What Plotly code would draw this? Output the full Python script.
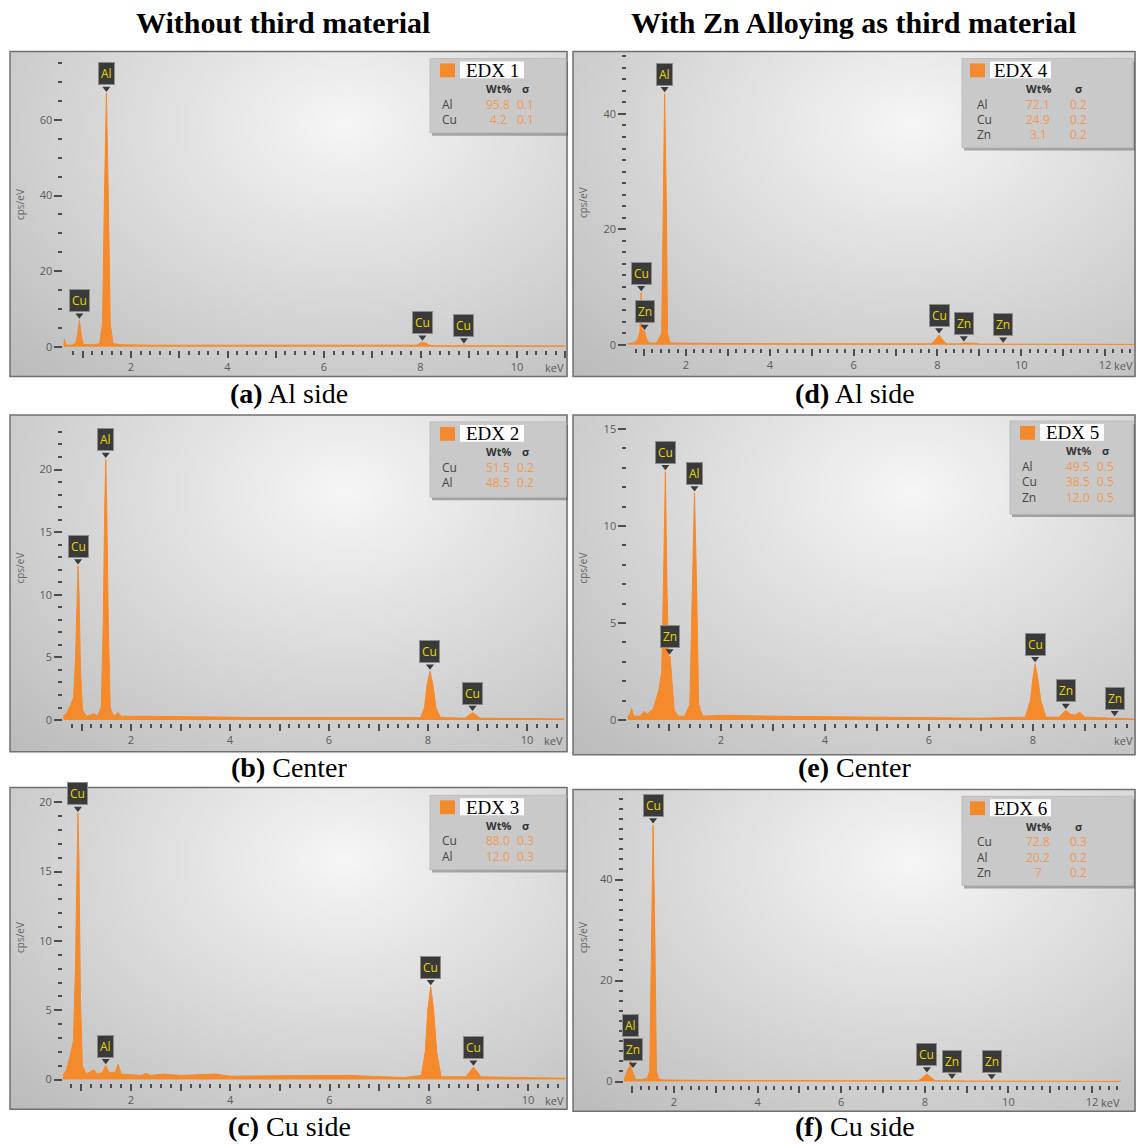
import math, zlib, struct, base64
import plotly.graph_objects as go

W, H = 1136, 1145

# ---------------- DATA ----------------
titles = ["Without third material", "With Zn Alloying as third material"]

# (a) EDX 1 – Al side, without third material
a_keV = [0.60, 0.62, 0.65, 0.75, 0.85, 0.89, 0.93, 0.97, 1.01, 1.20, 1.35, 1.41, 1.45, 1.49, 1.53, 1.57, 1.63, 1.80,
         2.50, 4.00, 6.00, 7.80, 7.92, 8.00, 8.04, 8.10, 8.18, 8.30, 8.82, 8.90, 8.98, 11.0]
a_cps = [0.3, 2.0, 0.5, 0.4, 0.8, 3.0, 7.0, 3.0, 0.6, 0.5, 0.8, 6.0, 40.0, 67.0, 40.0, 6.0, 0.8, 0.5,
         0.4, 0.35, 0.3, 0.25, 0.4, 1.0, 1.2, 1.0, 0.4, 0.25, 0.25, 0.45, 0.25, 0.2]
a_labels = ["Cu", "Al", "Cu", "Cu"]
a_label_keV = [0.93, 1.49, 8.04, 8.90]
a_label_cps = [7.0, 67.0, 1.2, 0.45]
a_elements = ["Al", "Cu"]
a_wt = ["95.8", "4.2"]
a_sigma = ["0.1", "0.1"]
a_xticklabels = [2, 4, 6, 8, 10]

# (b) EDX 2 – Center, without third material
b_keV = [0.63, 0.70, 0.78, 0.84, 0.88, 0.91, 0.93, 0.95, 0.98, 1.02, 1.10, 1.25, 1.32, 1.40, 1.44, 1.47, 1.49, 1.51,
         1.54, 1.58, 1.65, 1.74, 1.80, 2.30, 2.60, 3.00, 3.70, 4.50, 5.40, 6.40, 7.50, 7.85, 7.93, 7.98, 8.04, 8.10,
         8.16, 8.25, 8.75, 8.83, 8.90, 8.97, 9.05, 10.75]
b_cps = [0.3, 0.6, 1.2, 1.8, 5.0, 10.0, 12.3, 10.0, 4.0, 0.8, 0.3, 0.5, 0.3, 1.0, 8.0, 17.0, 20.8, 17.0,
         8.0, 1.0, 0.3, 0.6, 0.3, 0.3, 0.3, 0.25, 0.25, 0.2, 0.2, 0.2, 0.15, 0.2, 1.0, 2.8, 3.9, 2.8,
         1.0, 0.2, 0.15, 0.4, 0.6, 0.4, 0.15, 0.1]
b_labels = ["Cu", "Al", "Cu", "Cu"]
b_label_keV = [0.93, 1.49, 8.04, 8.90]
b_label_cps = [12.3, 20.8, 3.9, 0.6]
b_elements = ["Cu", "Al"]
b_wt = ["51.5", "48.5"]
b_sigma = ["0.2", "0.2"]
b_xticklabels = [2, 4, 6, 8, 10]

# (c) EDX 3 – Cu side, without third material
c_keV = [0.63, 0.70, 0.78, 0.84, 0.88, 0.91, 0.93, 0.95, 0.98, 1.02, 1.10, 1.25, 1.32, 1.42, 1.49, 1.56, 1.68, 1.74,
         1.80, 2.20, 2.30, 2.40, 2.65, 3.00, 3.35, 3.70, 4.00, 5.40, 6.40, 7.50, 7.85, 7.93, 7.98, 8.04, 8.10, 8.16,
         8.25, 8.75, 8.83, 8.90, 8.97, 9.05, 10.75]
c_cps = [0.3, 0.7, 1.8, 2.8, 8.0, 16.0, 19.2, 16.0, 6.0, 1.0, 0.4, 0.7, 0.4, 0.5, 1.0, 0.5, 0.5, 1.1,
         0.4, 0.3, 0.45, 0.3, 0.4, 0.3, 0.35, 0.4, 0.25, 0.25, 0.3, 0.15, 0.3, 2.0, 5.0, 6.7, 5.0, 2.0,
         0.2, 0.2, 0.6, 0.9, 0.6, 0.2, 0.1]
c_labels = ["Cu", "Al", "Cu", "Cu"]
c_label_keV = [0.93, 1.49, 8.04, 8.90]
c_label_cps = [19.2, 1.0, 6.7, 0.9]
c_elements = ["Cu", "Al"]
c_wt = ["88.0", "12.0"]
c_sigma = ["0.3", "0.3"]
c_xticklabels = [2, 4, 6, 8, 10]

# (d) EDX 4 – Al side, with Zn alloying
d_keV = [0.60, 0.75, 0.85, 0.90, 0.93, 0.95, 1.01, 1.06, 1.12, 1.30, 1.42, 1.45, 1.49, 1.53, 1.56, 1.62, 3.00,
         6.00, 7.85, 7.95, 8.04, 8.13, 8.22, 8.55, 8.63, 8.90, 9.00, 12.7]
d_cps = [0.2, 0.3, 1.0, 2.2, 9.0, 2.5, 2.3, 1.0, 0.3, 0.3, 2.0, 25.0, 43.5, 25.0, 2.0, 0.3, 0.2,
         0.15, 0.15, 0.8, 1.7, 0.8, 0.15, 0.15, 0.3, 0.25, 0.1, 0.05]
d_labels = ["Cu", "Zn", "Al", "Cu", "Zn", "Zn"]
d_label_keV = [0.93, 1.01, 1.49, 8.04, 8.63, 9.57]
d_label_cps = [9.0, 2.3, 43.5, 1.7, 0.3, 0.1]
d_elements = ["Al", "Cu", "Zn"]
d_wt = ["72.1", "24.9", "3.1"]
d_sigma = ["0.2", "0.2", "0.2"]
d_xticklabels = [2, 4, 6, 8, 10, 12]

# (e) EDX 5 – Center, with Zn alloying
e_keV = [0.20, 0.25, 0.28, 0.32, 0.45, 0.52, 0.58, 0.70, 0.80, 0.86, 0.90, 0.93, 0.96, 0.99, 1.02, 1.06, 1.10, 1.18,
         1.30, 1.40, 1.45, 1.49, 1.53, 1.57, 1.65, 2.00, 3.00, 5.00, 7.00, 7.85, 7.95, 8.00, 8.04, 8.09, 8.15, 8.25,
         8.50, 8.63, 8.72, 8.80, 8.90, 9.00, 9.50, 9.57, 9.65, 10.0]
e_cps = [0.2, 0.3, 0.6, 0.2, 0.2, 0.45, 0.3, 0.6, 1.5, 2.5, 8.0, 12.8, 7.0, 3.2, 3.3, 2.0, 0.5, 0.2,
         0.2, 0.8, 7.0, 11.7, 7.0, 0.8, 0.2, 0.25, 0.2, 0.15, 0.1, 0.15, 1.0, 2.2, 2.9, 2.2, 1.0, 0.15,
         0.15, 0.5, 0.3, 0.25, 0.4, 0.15, 0.1, 0.12, 0.1, 0.05]
e_labels = ["Cu", "Zn", "Al", "Cu", "Zn", "Zn"]
e_label_keV = [0.93, 1.01, 1.49, 8.04, 8.63, 9.57]
e_label_cps = [12.8, 3.3, 11.7, 2.9, 0.5, 0.12]
e_elements = ["Al", "Cu", "Zn"]
e_wt = ["49.5", "38.5", "12.0"]
e_sigma = ["0.5", "0.5", "0.5"]
e_xticklabels = [2, 4, 6, 8]

# (f) EDX 6 – Cu side, with Zn alloying
f_keV = [0.80, 0.85, 0.90, 0.94, 0.96, 0.98, 1.03, 1.08, 1.20, 1.35, 1.42, 1.46, 1.50, 1.54, 1.58, 1.64, 1.80,
         3.00, 6.00, 7.85, 7.95, 8.05, 8.15, 8.25, 8.60, 8.90, 9.00, 12.7]
f_cps = [0.3, 1.5, 2.5, 2.8, 7.2, 2.6, 1.5, 0.4, 0.4, 0.6, 2.0, 30.0, 50.8, 30.0, 2.0, 0.4, 0.3,
         0.2, 0.15, 0.15, 0.8, 1.5, 0.8, 0.15, 0.15, 0.2, 0.1, 0.05]
f_labels = ["Al", "Zn", "Cu", "Cu", "Zn", "Zn"]
f_label_keV = [0.96, 1.02, 1.50, 8.05, 8.65, 9.60]
f_label_cps = [7.2, 2.4, 50.8, 1.5, 0.2, 0.1]
f_elements = ["Cu", "Al", "Zn"]
f_wt = ["72.8", "20.2", "7"]
f_sigma = ["0.3", "0.2", "0.2"]
f_xticklabels = [2, 4, 6, 8, 10, 12]

# ---------------- STYLE / GEOMETRY ----------------
ORANGE = "#f58a2c"
VAL_ORANGE = "#f39a52"
TAG_BG = "#3a3a3a"
TAG_FG = "#e9d700"
TICK_C = "#4d4d4d"
SANS = "Open Sans"
SERIF = "Liberation Serif"

panels = [
    dict(keV=a_keV, cps=a_cps, lab=a_labels, lx=a_label_keV, ly=a_label_cps, el=a_elements, wt=a_wt, sg=a_sigma,
         xl=a_xticklabels, edx="EDX 1", tag="(a)", cap="Al side",
         frame=(10, 45, 568, 373), xcal=(2, 131, 10, 517), xr=(0.6, 11.0), ycal=(343, 60, 114), ytop=75,
         ydt=20, ymn=5, legend=(430, 52, 566, 127), ylab=(20, 200), caption_y=390),
    dict(keV=b_keV, cps=b_cps, lab=b_labels, lx=b_label_keV, ly=b_label_cps, el=b_elements, wt=b_wt, sg=b_sigma,
         xl=b_xticklabels, edx="EDX 2", tag="(b)", cap="Center",
         frame=(10, 412, 568, 752), xcal=(2, 131, 10, 527), xr=(0.63, 10.75), ycal=(720, 20, 467), ytop=23.2,
         ydt=5, ymn=1, legend=(430, 419, 566, 495), ylab=(20, 567), caption_y=768),
    dict(keV=c_keV, cps=c_cps, lab=c_labels, lx=c_label_keV, ly=c_label_cps, el=c_elements, wt=c_wt, sg=c_sigma,
         xl=c_xticklabels, edx="EDX 3", tag="(c)", cap="Cu side",
         frame=(10, 788, 568, 1113), xcal=(2, 131, 10, 528), xr=(0.63, 10.75), ycal=(1083, 20, 803), ytop=20.6,
         ydt=5, ymn=1, legend=(430, 796, 566, 871), ylab=(20, 940), caption_y=1130),
    dict(keV=d_keV, cps=d_cps, lab=d_labels, lx=d_label_keV, ly=d_label_cps, el=d_elements, wt=d_wt, sg=d_sigma,
         xl=d_xticklabels, edx="EDX 4", tag="(d)", cap="Al side",
         frame=(573, 45, 1136, 373), xcal=(2, 686, 12, 1105), xr=(0.6, 12.7), ycal=(341, 40, 108), ytop=50,
         ydt=20, ymn=2, legend=(962, 52, 1133, 142), ylab=(583, 198), caption_y=390),
    dict(keV=e_keV, cps=e_cps, lab=e_labels, lx=e_label_keV, ly=e_label_cps, el=e_elements, wt=e_wt, sg=e_sigma,
         xl=e_xticklabels, edx="EDX 5", tag="(e)", cap="Center",
         frame=(573, 412, 1136, 755), xcal=(2, 721, 8, 1033), xr=(0.2, 9.95), ycal=(720, 15, 426), ytop=15,
         ydt=5, ymn=1, legend=(1010, 418, 1133, 512), ylab=(583, 567), caption_y=768),
    dict(keV=f_keV, cps=f_cps, lab=f_labels, lx=f_label_keV, ly=f_label_cps, el=f_elements, wt=f_wt, sg=f_sigma,
         xl=f_xticklabels, edx="EDX 6", tag="(f)", cap="Cu side",
         frame=(573, 790, 1136, 1115), xcal=(2, 674, 12, 1092), xr=(0.8, 12.7), ycal=(1085, 40, 881), ytop=56,
         ydt=20, ymn=2, legend=(962, 797, 1133, 887), ylab=(583, 940), caption_y=1130),
]


def px(x):
    return x / W


def py(y):
    return 1 - y / H


def gradient_png(w=120, h=70):
    rows = []
    for j in range(h):
        yy = j / (h - 1)
        row = bytearray([0])
        for i in range(w):
            xx = i / (w - 1)
            d = math.sqrt(((xx - 0.6) / 0.8) ** 2 + ((yy - 0.22) / 1.0) ** 2)
            d = min(d, 1.1)
            v = int(round(246 - 54 * d))
            row += bytes([v, v, v])
        rows.append(bytes(row))
    raw = b"".join(rows)

    def chunk(t, dat):
        return struct.pack(">I", len(dat)) + t + dat + struct.pack(">I", zlib.crc32(t + dat) & 0xFFFFFFFF)

    png = (b"\x89PNG\r\n\x1a\n" + chunk(b"IHDR", struct.pack(">IIBBBBB", w, h, 8, 2, 0, 0, 0))
           + chunk(b"IDAT", zlib.compress(raw, 9)) + chunk(b"IEND", b""))
    return "data:image/png;base64," + base64.b64encode(png).decode()


BG = gradient_png()

fig = go.Figure()
shapes, annotations, images = [], [], []

for i, p in enumerate(panels, start=1):
    xs = "x" if i == 1 else f"x{i}"
    ys = "y" if i == 1 else f"y{i}"
    xa_v, xa_p, xb_v, xb_p = p["xcal"]
    kx = (xb_p - xa_p) / (xb_v - xa_v)
    y0p, y1v, y1p = p["ycal"]
    ky = (y0p - y1p) / y1v  # px per unit
    xpx = lambda v: xa_p + (v - xa_v) * kx
    ypx = lambda v: y0p - v * ky
    ymin = -3.0 / ky
    ytop = p["ytop"] * 1.002 + 0.01
    xmin, xmax = p["xr"]

    fx0, fy0, fx1, fy1 = p["frame"]
    images.append(dict(source=BG, xref="paper", yref="paper", x=px(fx0), y=py(fy0),
                       sizex=px(fx1) - px(fx0), sizey=py(fy0) - py(fy1), sizing="stretch", layer="below"))
    shapes.append(dict(type="rect", xref="paper", yref="paper", x0=px(fx0), x1=px(fx1 - 1), y0=py(fy1), y1=py(fy0),
                       line=dict(color="#707070", width=1.5), fillcolor="rgba(0,0,0,0)", layer="above"))

    # spectrum
    fig.add_trace(go.Scatter(x=p["keV"], y=p["cps"], mode="lines", fill="tozeroy",
                             line=dict(color=ORANGE, width=1), fillcolor=ORANGE,
                             xaxis=xs, yaxis=ys, showlegend=False, hoverinfo="skip"))
    # label pointers
    fig.add_trace(go.Scatter(x=p["lx"], y=[v + 5.0 / ky for v in p["ly"]], mode="markers",
                             marker=dict(symbol="triangle-down", size=7, color=TAG_BG),
                             xaxis=xs, yaxis=ys, showlegend=False, hoverinfo="skip"))
    for t, xv, yv in zip(p["lab"], p["lx"], p["ly"]):
        annotations.append(dict(x=xv, y=yv, xref=xs, yref=ys, text=t, showarrow=False, yanchor="bottom",
                                yshift=8, bgcolor=TAG_BG, bordercolor="#8c8c8c", borderwidth=1, borderpad=2,
                                font=dict(family=SANS, size=12, color=TAG_FG)))

    ints = list(range(math.ceil(xmin), math.floor(xmax) + 1))
    minor_vals = [round(k * 0.2, 2) for k in range(int(xmin * 5) + 1, int(xmax * 5) + 1)
                  if abs(k * 0.2 - round(k * 0.2)) > 1e-6]
    ax_name = "xaxis" if i == 1 else f"xaxis{i}"
    ay_name = "yaxis" if i == 1 else f"yaxis{i}"
    fig.layout[ax_name] = dict(domain=[px(xpx(xmin)), px(xpx(xmax))], range=[xmin, xmax], anchor=ys,
                               tickmode="array", tickvals=ints,
                               ticktext=[str(v) if v in p["xl"] else "" for v in ints],
                               ticks="outside", ticklen=7, tickwidth=2, tickcolor=TICK_C,
                               showgrid=False, zeroline=False, showline=False, fixedrange=True,
                               tickfont=dict(family=SANS, size=11, color="#5a5a5a"),
                               minor=dict(tickmode="array", tickvals=minor_vals, ticks="outside", ticklen=4,
                                          tickwidth=2, tickcolor=TICK_C, showgrid=False))
    fig.layout[ay_name] = dict(domain=[py(ypx(ymin)), py(ypx(ytop))], range=[ymin, ytop], anchor=xs,
                               tickmode="linear", tick0=0, dtick=p["ydt"], ticks="outside", ticklen=8,
                               tickwidth=2, tickcolor=TICK_C, showgrid=False, zeroline=False, showline=False,
                               fixedrange=True, tickfont=dict(family=SANS, size=11, color="#5a5a5a"),
                               minor=dict(tick0=0, dtick=p["ymn"], ticks="outside", ticklen=4, tickwidth=2,
                                          tickcolor=TICK_C, showgrid=False))

    # keV unit label
    annotations.append(dict(x=px(xpx(xmax) + 1), y=py(y0p + 21), xref="paper", yref="paper", text="keV",
                            showarrow=False, xanchor="right", yanchor="middle",
                            font=dict(family=SANS, size=11, color="#5a5a5a")))
    # y-axis title
    annotations.append(dict(x=px(p["ylab"][0]), y=py(p["ylab"][1]), xref="paper", yref="paper", text="cps/eV",
                            showarrow=False, textangle=-90, xanchor="center", yanchor="middle",
                            font=dict(family=SANS, size=10, color="#666666")))
    # caption
    annotations.append(dict(x=px((fx0 + fx1) / 2), y=py(p["caption_y"]), xref="paper", yref="paper",
                            text=f"<b>{p['tag']}</b> {p['cap']}", showarrow=False, xanchor="center",
                            yanchor="middle", font=dict(family=SERIF, size=28, color="black")))

    # legend box
    L, T, R, B = p["legend"]
    wide = (R - L) > 150
    shapes.append(dict(type="rect", xref="paper", yref="paper", x0=px(L + 2), x1=px(R + 2), y0=py(B + 3),
                       y1=py(T + 3), line=dict(width=0), fillcolor="rgba(80,80,80,0.45)", layer="above"))
    shapes.append(dict(type="rect", xref="paper", yref="paper", x0=px(L), x1=px(R), y0=py(B), y1=py(T),
                       line=dict(color="#bdbdbd", width=1), fillcolor="#c9c9c9", layer="above"))
    if wide:
        sw0, wh0, wh1, c_wt, c_sg, c_el = 8, 28, 89, 76, 116, 13
    else:
        sw0, wh0, wh1, c_wt, c_sg, c_el = 10, 30, 94, 68, 95, 10
    shapes.append(dict(type="rect", xref="paper", yref="paper", x0=px(L + sw0), x1=px(L + sw0 + 15),
                       y0=py(T + 19), y1=py(T + 5), line=dict(width=0), fillcolor=ORANGE, layer="above"))
    shapes.append(dict(type="rect", xref="paper", yref="paper", x0=px(L + wh0), x1=px(L + wh1),
                       y0=py(T + 20), y1=py(T + 3), line=dict(width=0), fillcolor="white", layer="above"))
    annotations.append(dict(x=px((L + wh0 + L + wh1) / 2), y=py(T + 12), xref="paper", yref="paper",
                            text=p["edx"], showarrow=False, xanchor="center", yanchor="middle",
                            font=dict(family=SERIF, size=19, color="black")))
    annotations.append(dict(x=px(L + c_wt), y=py(T + 30), xref="paper", yref="paper", text="<b>Wt%</b>",
                            showarrow=False, xanchor="center", yanchor="middle",
                            font=dict(family=SANS, size=11, color="#333333")))
    annotations.append(dict(x=px(L + c_sg), y=py(T + 30), xref="paper", yref="paper", text="<b>σ</b>",
                            showarrow=False, xanchor="center", yanchor="middle",
                            font=dict(family=SANS, size=11, color="#333333")))
    for r, (e, w_, s_) in enumerate(zip(p["el"], p["wt"], p["sg"])):
        yy = T + 46 + r * 15.5
        annotations.append(dict(x=px(L + c_el), y=py(yy), xref="paper", yref="paper", text=e, showarrow=False,
                                xanchor="left", yanchor="middle", font=dict(family=SANS, size=12, color="#444444")))
        annotations.append(dict(x=px(L + c_wt), y=py(yy), xref="paper", yref="paper", text=w_, showarrow=False,
                                xanchor="center", yanchor="middle", font=dict(family=SANS, size=12, color=VAL_ORANGE)))
        annotations.append(dict(x=px(L + c_sg), y=py(yy), xref="paper", yref="paper", text=s_, showarrow=False,
                                xanchor="center", yanchor="middle", font=dict(family=SANS, size=12, color=VAL_ORANGE)))

# column titles
for cx, t in zip([283, 853], titles):
    annotations.append(dict(x=px(cx), y=py(16), xref="paper", yref="paper", text=f"<b>{t}</b>", showarrow=False,
                            xanchor="center", yanchor="middle", font=dict(family=SERIF, size=30, color="black")))

fig.update_layout(width=W, height=H, margin=dict(l=0, r=0, t=0, b=0), paper_bgcolor="white",
                  plot_bgcolor="rgba(0,0,0,0)", shapes=shapes, annotations=annotations, images=images,
                  showlegend=False)
fig.write_html("out.html", config={"displayModeBar": False},
               post_script="document.body.style.margin='0px';document.body.style.overflow='hidden';")
